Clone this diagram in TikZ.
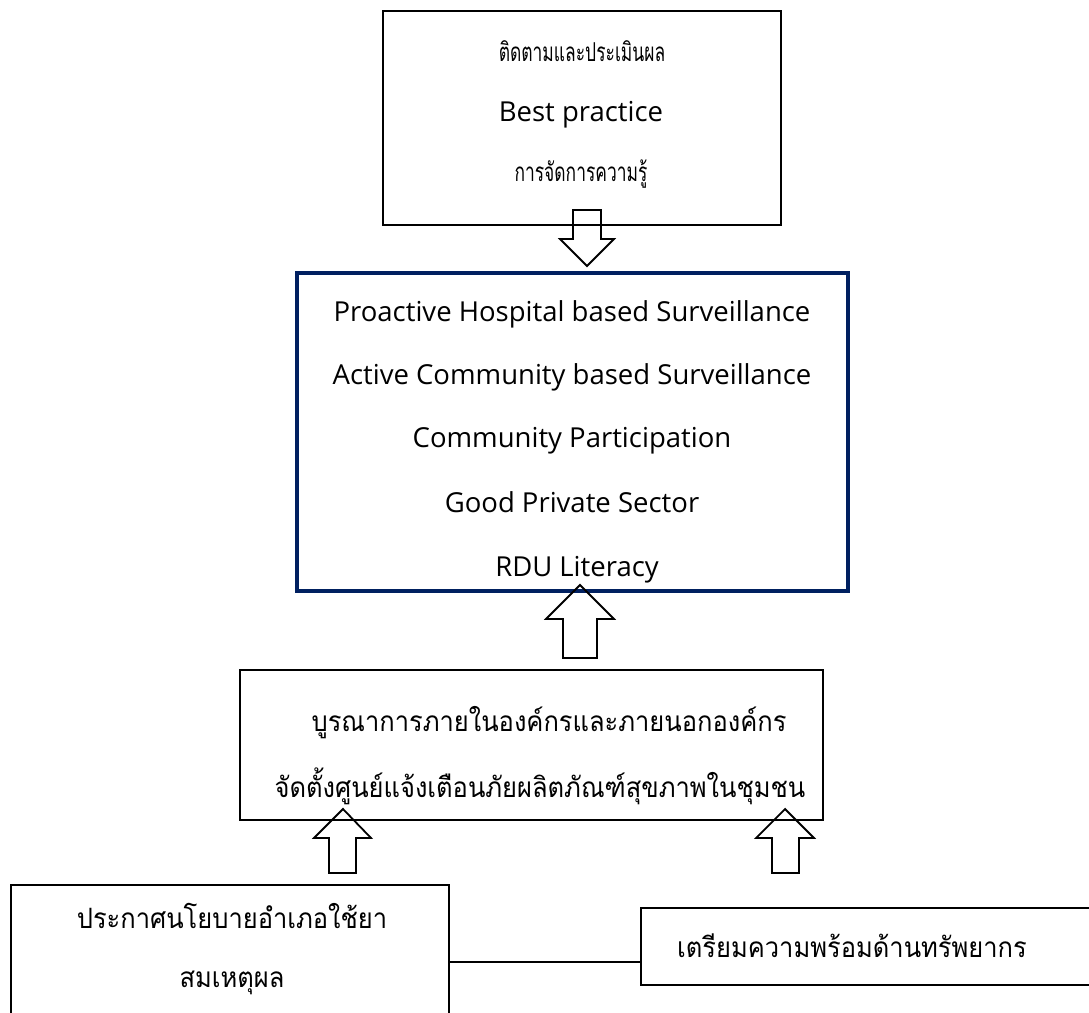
\documentclass[tikz,border=0pt]{standalone}
\usepackage{fontspec}
\setmainfont{Open Sans}
\newfontfamily\thaifont[Script=Thai,FakeStretch=0.91]{Loma}
\newfontfamily\thainarrow[Script=Thai,FakeStretch=0.67]{Loma}
\definecolor{navy}{HTML}{002060}
\begin{document}
\begin{tikzpicture}[x=1pt,y=-1pt,
  box/.style={draw=black,line width=1.7pt,inner sep=0pt},
  bluebox/.style={draw=navy,line width=4.5pt,inner sep=0pt},
  lat/.style={anchor=base,inner sep=0pt,font=\fontsize{27.5}{30}\selectfont},
  th/.style={anchor=base,inner sep=0pt,font=\thaifont\fontsize{28}{30}\selectfont},
  thn/.style={anchor=base,inner sep=0pt,font=\thainarrow\fontsize{26}{30}\selectfont},
  blk/.style={draw=black,line width=1.8pt,line join=miter}]
\useasboundingbox (0,0) rectangle (1089,1012);
\clip (0,0) rectangle (1089,1012);
% boxes
\node[box,minimum width=398pt,minimum height=214pt] (top) at (582,118) {};
\node[bluebox,minimum width=551pt,minimum height=318pt] (mid) at (572.5,432) {};
\node[box,minimum width=583pt,minimum height=150pt] (integ) at (531.5,745) {};
\node[box,minimum width=438pt,minimum height=154pt] (lbox) at (230,962) {};
\node[box,minimum width=470pt,minimum height=77pt] (rbox) at (876,946.5) {};
% texts
\node[thn] (t1) at (582,61) {ติดตามและประเมินผล};
\node[lat] (t2) at (581,121) {Best practice};
\node[thn] (t3) at (581,181) {การจัดการความรู้};
\node[lat] (m1) at (572,321) {Proactive Hospital based Surveillance};
\node[lat] (m2) at (572,384) {Active Community based Surveillance};
\node[lat] (m3) at (572,447) {Community Participation};
\node[lat] (m4) at (572,512) {Good Private Sector};
\node[lat] (m5) at (577,576) {RDU Literacy};
\node[th] (i1) at (549,731) {บูรณาการภายในองค์กรและภายนอกองค์กร};
\node[th] (i2) at (540,797) {จัดตั้งศูนย์แจ้งเตือนภัยผลิตภัณฑ์สุขภาพในชุมชน};
\node[th] (l1) at (232,928) {ประกาศนโยบายอำเภอใช้ยา};
\node[th] (l2) at (232,987) {สมเหตุผล};
\node[th] (r1) at (852,957) {เตรียมความพร้อมด้านทรัพยากร};
% block arrows
\draw[blk] (573,210) -- (601,210) -- (601,239) -- (614,239) -- (587,266) -- (560,239) -- (573,239) -- cycle;
\draw[blk] (563,658) -- (597,658) -- (597,619) -- (614,619) -- (580,585) -- (546,619) -- (563,619) -- cycle;
\draw[blk] (329,873) -- (356,873) -- (356,838) -- (371,838) -- (343,809) -- (314,838) -- (329,838) -- cycle;
\draw[blk] (772,873) -- (799,873) -- (799,838) -- (814,838) -- (785,809) -- (756,838) -- (772,838) -- cycle;
% connector
\draw[line width=1.2pt] (lbox.east) -- (lbox.east -| rbox.west);
\end{tikzpicture}
\end{document}
